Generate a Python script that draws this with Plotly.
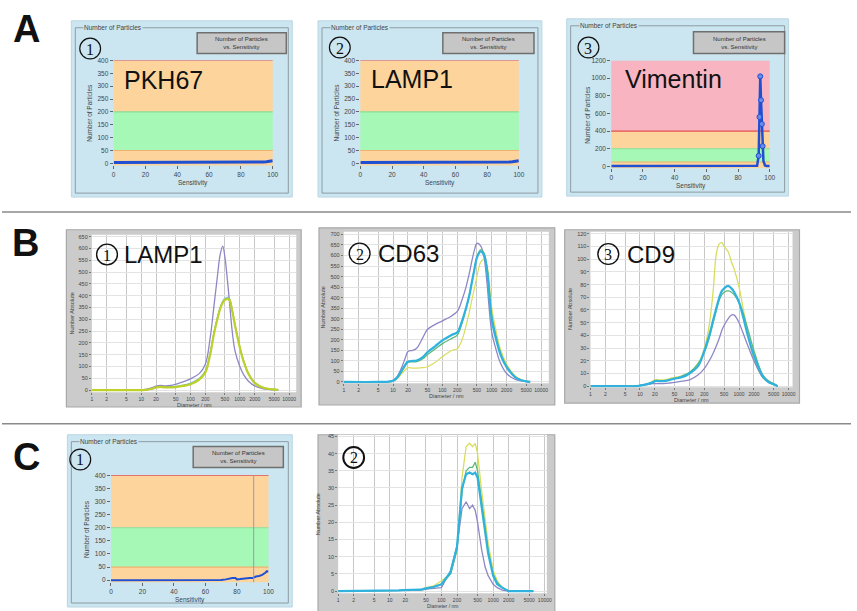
import plotly.graph_objects as go

W, H = 857, 611
def px(x): return x / W
def py(y): return 1 - y / H

# ---------------- DATA ----------------
sens_x = [0, 10, 20, 30, 40, 50, 60, 70, 80, 90, 92, 94, 96, 98, 100]
a1_particles = [3, 3, 3, 3, 3, 3, 3, 3, 3, 3, 4, 5, 6, 8, 10]
a2_particles = [3, 3, 3, 3, 3, 3, 3, 3, 3, 3, 4, 5, 6, 8, 10]
a3_sens = [0, 10, 20, 30, 40, 50, 60, 70, 80, 90, 92, 93, 93.5, 94, 94.5, 95, 95.5, 96, 97, 98, 100]
a3_particles = [5, 5, 5, 5, 5, 5, 5, 5, 5, 5, 8, 120, 560, 1020, 750, 480, 230, 60, 10, 5, 5]
c1_sens = [0, 10, 20, 30, 40, 50, 60, 65, 70, 73, 75, 77, 79, 80, 82, 85, 88, 90, 92, 94, 96, 98, 99, 100]
c1_particles = [0, 0, 0, 0, 0, 0, 0, 0, 1, 3, 6, 8, 8, 3, 4, 7, 8, 8, 14, 16, 20, 28, 34, 32]

diam = [1, 5, 8, 10, 12, 15, 18, 20, 25, 30, 40, 50, 70, 100, 150, 200, 250, 300, 350, 400,
        450, 500, 600, 700, 800, 1000, 1200, 1500, 2000, 3000, 4000, 5000, 6000]

b1_purple = [0, 0, 0, 1, 3, 8, 13, 17, 20, 18, 20, 25, 35, 48, 70, 110, 220, 360, 480, 575,
             610, 560, 400, 250, 165, 100, 65, 38, 18, 6, 3, 1, 0]
b1_yellow = [0, 0, 0, 0, 1, 4, 8, 12, 14, 12, 12, 13, 18, 25, 45, 75, 150, 240, 300, 345,
             370, 382, 385, 335, 272, 180, 120, 68, 30, 10, 5, 3, 1]
b1_green = [0, 0, 0, 0, 1, 4, 8, 12, 15, 14, 14, 15, 20, 28, 48, 80, 155, 245, 305, 348,
            373, 386, 388, 338, 275, 182, 122, 70, 32, 11, 5, 3, 1]
b1_cyan = [0, 0, 0, 0, 1, 5, 9, 13, 16, 15, 15, 16, 21, 30, 50, 82, 158, 248, 308, 352,
           378, 390, 392, 342, 278, 184, 124, 71, 33, 11, 5, 3, 1]

b2_purple = [0, 0, 2, 8, 25, 70, 120, 145, 150, 160, 210, 250, 272, 290, 312, 335, 390, 450, 515, 580,
             630, 658, 645, 590, 470, 235, 160, 90, 40, 12, 5, 2, 0]
b2_cyan = [0, 0, 1, 6, 20, 55, 85, 97, 100, 102, 118, 142, 168, 197, 222, 236, 290, 350, 410, 480,
           540, 590, 620, 600, 530, 295, 210, 130, 70, 22, 8, 3, 0]
b2_green = [0, 0, 1, 6, 18, 50, 80, 93, 95, 96, 110, 130, 155, 182, 205, 222, 280, 345, 410, 480,
            545, 595, 628, 610, 545, 318, 225, 140, 75, 24, 9, 3, 0]
b2_yellow = [0, 0, 0, 4, 14, 40, 60, 68, 66, 66, 68, 72, 92, 120, 148, 158, 200, 265, 330, 395,
             450, 500, 570, 580, 555, 350, 250, 155, 85, 28, 10, 4, 0]

b3_purple = [0, 0, 0, 0.5, 1, 1.5, 2, 2, 2, 2, 2.5, 3, 4, 5, 9, 14, 20, 26, 32, 38,
             44, 48, 53, 56, 56, 50, 42, 32, 20, 7, 3, 1.5, 0]
b3_yellow = [0, 0, 0, 0.5, 1, 2, 4, 5, 5, 5, 6, 7, 8, 10, 18, 30, 48, 75, 105, 112,
             113, 110, 106, 98, 92, 78, 62, 42, 21, 7, 3, 1.5, 0]
b3_cyan = [0, 0, 0, 0.5, 1, 2, 3, 4, 4, 4, 5, 6, 7, 10, 16, 28, 40, 52, 62, 70,
           75, 77, 79, 77, 74, 66, 55, 40, 24, 8, 3, 1.5, 0]
b3_green = [0, 0, 0, 0.5, 1, 2, 3, 4, 4, 4, 5, 6, 8, 11, 18, 27, 38, 50, 60, 68,
            72, 74, 75, 74, 72, 66, 58, 45, 28, 9, 4, 2, 0]

c2_yellow = [0, 0, 0, 0, 0, 0.2, 0.3, 0.4, 0.2, 0.2, 0.5, 1, 1.5, 3, 5, 12, 33, 42, 43, 42,
             43, 40, 29, 20, 14, 6, 3, 1, 0, 0, 0, 0, 0]
c2_green = [0, 0, 0, 0, 0, 0.2, 0.3, 0.4, 0.2, 0.2, 0.4, 0.8, 1.2, 2, 5, 12, 29, 35, 36, 36,
            37.5, 35, 26, 18, 12, 5, 2.5, 1, 0, 0, 0, 0, 0]
c2_cyan = [0, 0, 0, 0, 0, 0.2, 0.3, 0.3, 0.2, 0.2, 0.4, 0.8, 1.2, 2, 5.5, 13, 30, 34, 34.5, 34,
           34.5, 33, 24, 16, 11, 4.5, 2, 1, 0, 0, 0, 0, 0]
c2_purple = [0, 0, 0, 0, 0, 0.1, 0.2, 0.3, 0.2, 0.2, 0.3, 0.6, 0.8, 1, 6, 13, 24, 26, 24, 25,
             23.5, 20, 12, 7, 4.5, 2, 1, 0.3, 0, 0, 0, 0, 0]

sens_ticks = [0, 20, 40, 60, 80, 100]
diam_ticks = [1, 2, 5, 10, 20, 50, 100, 200, 500, 1000, 2000, 5000, 10000]
diam_ticktext = [str(v) for v in diam_ticks]

# ---------------- STYLE ----------------
FONT = "Liberation Sans"
BLUE_BOX = "#CBE6F1"
ORANGE = "#FDD49C"
GREEN = "#A5F8B5"
PINK = "#F8B5C1"
LINE_BLUE = "#1F4FD3"
PURPLE = "#8E87C6"
YELLOW = "#D9DD5E"
GREENL = "#5DB878"
CYAN = "#2FB2DE"

fig = go.Figure()
shapes = []
annos = []
layout = dict(width=W, height=H, margin=dict(l=0, r=0, t=0, b=0), paper_bgcolor="white",
              plot_bgcolor="rgba(0,0,0,0)", showlegend=False,
              font=dict(family=FONT, color="#333"))


def axname(n, kind):
    return kind + ("axis" if n == 1 else "axis%d" % n)


def ref(n, kind):
    return kind if n == 1 else kind + str(n)


def text(x, y, s, size, color="#444", angle=0, xa="center", ya="middle", family=FONT, bg=None):
    d = dict(xref="paper", yref="paper", x=px(x), y=py(y), text=s, showarrow=False, xanchor=xa,
             yanchor=ya, textangle=angle, font=dict(size=size, color=color, family=family), borderpad=0)
    if bg:
        d["bgcolor"] = bg
    annos.append(d)


def circle(c, digit, lw, r=10.5):
    cx, cy = c
    shapes.append(dict(type="circle", xref="paper", yref="paper", x0=px(cx - r), x1=px(cx + r),
                       y0=py(cy + r), y1=py(cy - r), line=dict(color="#111", width=lw)))
    text(cx, cy + 0.5, digit, 16, "#111", family="Liberation Serif")


def sens_panel(n, plot_l, plot_r, plot_t, plot_b, yr, ytick, box, btn, circ, digit, label, label_x, zones, redline):
    x0, y0, x1, y1 = box
    shapes.append(dict(type="rect", xref="paper", yref="paper", x0=px(x0), x1=px(x1), y0=py(y1), y1=py(y0),
                       fillcolor=BLUE_BOX, line=dict(color="#BBD6E2", width=1), layer="below"))
    shapes.append(dict(type="rect", xref="paper", yref="paper", x0=px(x0 + 4), x1=px(x1 - 4), y0=py(y1 - 4),
                       y1=py(y0 + 7), fillcolor="rgba(0,0,0,0)", line=dict(color="#8D9CA3", width=1), layer="below"))
    text(x0 + 12, y0 + 7, "Number of Particles", 6.5, xa="left", bg=BLUE_BOX)
    bx0, by0, bx1, by1 = btn
    shapes.append(dict(type="rect", xref="paper", yref="paper", x0=px(bx0), x1=px(bx1), y0=py(by1), y1=py(by0),
                       fillcolor="#C6C6C6", line=dict(color="#6F6F6F", width=1.5), layer="below"))
    text((bx0 + bx1) / 2, (by0 + by1) / 2, "Number of Particles<br>vs. Sensitivity", 6, "#333")
    xr, yr_ = ref(n, "x"), ref(n, "y")
    for (lo, hi, col) in zones:
        shapes.append(dict(type="rect", xref=xr + " domain", yref=yr_, x0=0, x1=1, y0=lo, y1=hi,
                           fillcolor=col, line=dict(width=0), layer="below"))
    for (val, col) in [(50, "#F0B070"), (200, "#88DD99"), (redline, "#E05050")]:
        shapes.append(dict(type="line", xref=xr + " domain", yref=yr_, x0=0, x1=1, y0=val, y1=val,
                           line=dict(color=col, width=1.2), layer="below"))
    layout[axname(n, "x")] = dict(domain=[px(plot_l), px(plot_r)], range=[0, 100], anchor=yr_,
                                  tickvals=sens_ticks, ticks="outside", ticklen=3, tickcolor="#666",
                                  tickfont=dict(size=6.5, color="#444"), showgrid=False, zeroline=False,
                                  showline=False, fixedrange=True, tickangle=0)
    layout[axname(n, "y")] = dict(domain=[py(plot_b), py(plot_t)], range=yr, anchor=xr,
                                  tickvals=ytick, ticks="outside", ticklen=3, tickcolor="#666",
                                  tickfont=dict(size=6.5, color="#444"), showgrid=False, zeroline=False,
                                  showline=False, fixedrange=True)
    text(plot_l - 24, (plot_t + plot_b) / 2, "Number of Particles", 6.5, angle=-90)
    text((plot_l + plot_r) / 2, plot_b + 18, "Sensitivity", 6.5)
    circle(circ, digit, 1.2)
    if label:
        text(label_x, circ[1] + 32, label, 25, "#111", xa="left")


def diam_panel(n, plot_l, plot_r, plot_t, plot_b, xmax, yr, ydt, box, circ, digit, label, label_x, lab_y,
               title_y=None, title_size=5.5):
    x0, y0, x1, y1 = box
    shapes.append(dict(type="rect", xref="paper", yref="paper", x0=px(x0), x1=px(x1), y0=py(y1), y1=py(y0),
                       fillcolor="#CBCBCB", line=dict(color="#A8A8A8", width=1.2), layer="below"))
    xr, yr_ = ref(n, "x"), ref(n, "y")
    shapes.append(dict(type="rect", xref=xr + " domain", yref=yr_ + " domain", x0=0, x1=1, y0=0, y1=1,
                       fillcolor="white", line=dict(width=0), layer="below"))
    layout[axname(n, "x")] = dict(domain=[px(plot_l), px(plot_r)], type="log", range=[0, xmax], anchor=yr_,
                                  tickvals=diam_ticks, ticktext=diam_ticktext, ticks="outside", ticklen=2,
                                  tickcolor="#777", tickfont=dict(size=5, color="#444"), tickangle=0,
                                  showgrid=True, gridcolor="#C8C8C8", gridwidth=1.3, zeroline=False,
                                  showline=False, fixedrange=True)
    layout[axname(n, "y")] = dict(domain=[py(plot_b), py(plot_t)], range=yr, anchor=xr, dtick=ydt, tick0=0,
                                  ticks="outside", ticklen=2, tickcolor="#777",
                                  tickfont=dict(size=5.5, color="#444"), showgrid=True, gridcolor="#E3E3E3",
                                  gridwidth=1, zeroline=False, showline=False, fixedrange=True)
    text(plot_l - 20, (plot_t + plot_b) / 2, "Number Absolute", 5.5, angle=-90)
    text((plot_l + plot_r) / 2, title_y if title_y else plot_b + 13, "Diameter / nm", title_size)
    circle(circ, digit, 1.4 if label else 2)
    if label:
        text(label_x, lab_y, label, 24, "#111", xa="left")


# ---------------- PANELS ----------------
zones_a = [(-10, 50, ORANGE), (50, 200, GREEN), (200, 400, ORANGE)]
zones_a3 = [(-25, 50, ORANGE), (50, 200, GREEN), (200, 400, ORANGE), (400, 1200, PINK)]

sens_panel(1, 112.7, 273.3, 57, 163, [-8, 400], list(range(0, 401, 50)), (70, 17, 293, 195),
           (197, 29, 287, 50), (89, 45), "1", "PKH67", 121.7, zones_a, 400)
sens_panel(2, 361.7, 521.7, 57, 163, [-8, 400], list(range(0, 401, 50)), (319, 17, 545, 195),
           (445, 29, 537, 50), (341, 44), "2", "LAMP1", 371.7, zones_a, 400)
sens_panel(3, 615, 775, 57, 165.8, [-20, 1200], list(range(0, 1201, 200)), (570, 15, 794, 194),
           (698, 28, 790, 50), (592, 44), "3", "Vimentin", 628.3, zones_a3, 400)

diam_panel(4, 90.7, 297, 233, 392, 4.143, [-8.4, 658], 50, (65, 228, 302, 407), (106, 253), "1",
           "LAMP1", 121.7, 253.3)
diam_panel(5, 345, 552, 230, 383, 4.157, [-6.1, 712.7], 50, (320, 226, 558, 405), (361, 252), "2",
           "CD63", 378.3, 252)
diam_panel(6, 594, 798, 230, 387, 4.08, [-0.8, 121.6], 10, (568, 228, 805, 403), (612, 252.5), "3",
           "CD9", 630, 253)

sens_panel(7, 110, 269, 476, 584, [-8, 400], list(range(0, 401, 50)), (66, 435, 293, 609),
           (193, 447, 284, 468), (79, 460), "1", "", 0, zones_a, 400)
diam_panel(8, 339.3, 550, 435, 595, 4.04, [-0.6, 45.5], 5, (319, 435, 558, 640), (355, 458), "2",
           "", 0, 0, title_y=607.5, title_size=5)

# cursor line in C1
shapes.append(dict(type="line", xref="x7", yref="y7 domain", x0=90.6, x1=90.6, y0=0, y1=1,
                   line=dict(color="#9A98B8", width=1)))

# ---------------- TRACES ----------------
def add(x, y, n, color, width, shape="spline", mode="lines", marker=None):
    tr = go.Scatter(x=x, y=y, mode=mode, line=dict(color=color, width=width, shape=shape),
                    xaxis=ref(n, "x"), yaxis=ref(n, "y"), hoverinfo="skip")
    if marker:
        tr.marker = marker
    fig.add_trace(tr)

add(sens_x, a1_particles, 1, LINE_BLUE, 3, shape="linear")
add(sens_x, a2_particles, 2, LINE_BLUE, 3, shape="linear")
add(a3_sens, a3_particles, 3, LINE_BLUE, 2.5, shape="linear")
add(a3_sens[11:17], a3_particles[11:17], 3, LINE_BLUE, 0, shape="linear", mode="markers",
    marker=dict(size=5, color="#6A8BE6", line=dict(color=LINE_BLUE, width=1)))
add(c1_sens, c1_particles, 7, LINE_BLUE, 2, shape="linear")

add(diam, b1_cyan, 4, "#9FD8EA", 1.2)
add(diam, b1_purple, 4, PURPLE, 1.3)
add(diam, b1_green, 4, GREENL, 1.3)
add(diam, b1_yellow, 4, "#BFD02A", 2.2)

add(diam, b2_yellow, 5, YELLOW, 1.2)
add(diam, b2_purple, 5, PURPLE, 1.3)
add(diam, b2_green, 5, GREENL, 1.3)
add(diam, b2_cyan, 5, CYAN, 2.2)

add(diam, b3_yellow, 6, YELLOW, 1.3)
add(diam, b3_purple, 6, PURPLE, 1.3)
add(diam, b3_green, 6, GREENL, 1.3)
add(diam, b3_cyan, 6, CYAN, 2.2)

add(diam, c2_yellow, 8, YELLOW, 1.3, shape="linear")
add(diam, c2_purple, 8, PURPLE, 1.3, shape="linear")
add(diam, c2_green, 8, GREENL, 1.3, shape="linear")
add(diam, c2_cyan, 8, CYAN, 2.2, shape="linear")

# ---------------- FIGURE DECOR ----------------
for yy in (210, 424):
    shapes.append(dict(type="line", xref="paper", yref="paper", x0=0, x1=1, y0=py(yy), y1=py(yy),
                       line=dict(color="#8A8A8A", width=1.5)))
for letter, (lx, ly) in {"A": (25, 25), "B": (24, 241), "C": (25, 457)}.items():
    text(lx, ly, "<b>%s</b>" % letter, 38, "#111")

layout["shapes"] = shapes
layout["annotations"] = annos
fig.update_layout(**layout)
fig.write_html("out.html")
